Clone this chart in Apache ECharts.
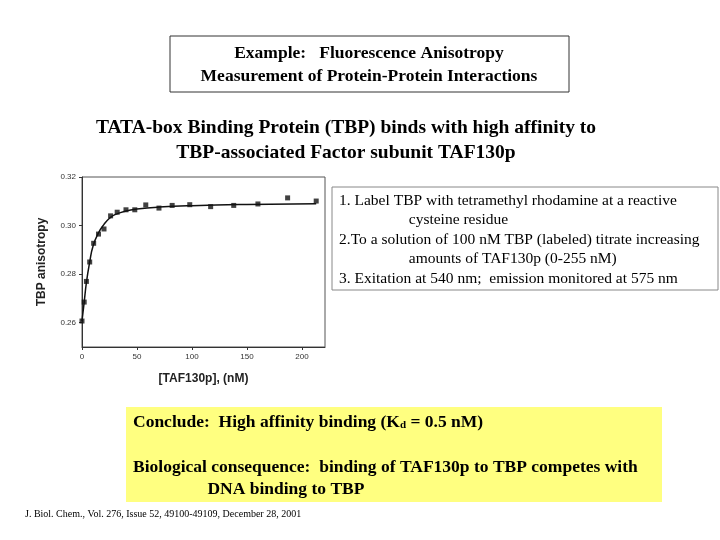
<!DOCTYPE html>
<html><head><meta charset="utf-8">
<script src="https://cdn.jsdelivr.net/npm/echarts@6/dist/echarts.min.js"></script>
<style>body{margin:0;background:#fff}#c{width:720px;height:540px}</style>
</head><body><div id="c"></div>
<script>
// data
var tafConc = [0, 2, 4, 7, 10.6, 15, 20, 26, 32, 40, 48, 58, 70, 82, 98, 117, 138, 160, 187, 213];
var anisotropy = [0.2607, 0.2685, 0.277, 0.285, 0.2927, 0.2965, 0.2986, 0.304, 0.3055, 0.3065, 0.3065, 0.3085, 0.3072, 0.3083, 0.3086, 0.3078, 0.3083, 0.3089, 0.3114, 0.3101];
var fitX = [0, 2, 4, 7, 10, 15, 20, 25, 30, 40, 50, 70, 100, 150, 213];
var fitY = [0.2607, 0.2685, 0.2765, 0.2850, 0.2915, 0.2970, 0.3005, 0.3030, 0.3045, 0.3060, 0.3068, 0.3076, 0.3082, 0.3087, 0.3090];
var xTicks = [0, 50, 100, 150, 200];
var yTicks = [0.26, 0.28, 0.30, 0.32];

var serif = 'Liberation Serif';
var chart = echarts.init(document.getElementById('c'));

var option = {
    backgroundColor: '#fff',
    animation: false,
    grid: {left: 82, top: 177, width: 243, height: 170, show: true, borderColor: '#555', borderWidth: 1},
    xAxis: {
        type: 'value', min: 0, max: 221,
        name: '[TAF130p], (nM)', nameLocation: 'middle', nameGap: 26,
        nameTextStyle: {fontFamily: 'Liberation Sans', fontWeight: 'bold', fontSize: 12, color: '#222'},
        axisLine: {lineStyle: {color: '#333'}},
        axisTick: {length: 3, customValues: xTicks, lineStyle: {color: '#333'}},
        axisLabel: {fontSize: 8, color: '#333', margin: 6, customValues: xTicks},
        splitLine: {show: false}
    },
    yAxis: {
        type: 'value', min: 0.25, max: 0.32,
        name: 'TBP anisotropy', nameLocation: 'middle', nameGap: 34,
        nameTextStyle: {fontFamily: 'Liberation Sans', fontWeight: 'bold', fontSize: 12, color: '#222'},
        axisLine: {show: true, lineStyle: {color: '#333'}},
        axisTick: {show: true, length: 3, customValues: yTicks, lineStyle: {color: '#333'}},
        axisLabel: {fontSize: 8, color: '#333', margin: 6, customValues: yTicks,
                    formatter: function (v) { return v.toFixed(2); }},
        splitLine: {show: false}
    },
    series: [
        {type: 'line', data: fitX.map(function (x, i) { return [x, fitY[i]]; }),
         smooth: true, showSymbol: false, lineStyle: {color: '#111', width: 1.5}},
        {type: 'scatter', data: tafConc.map(function (x, i) { return [x, anisotropy[i]]; }),
         symbol: 'rect', symbolSize: 5, itemStyle: {color: '#111'}}
    ],
    graphic: [
        {type: 'rect', shape: {x: 170, y: 36, width: 399, height: 56},
         style: {fill: '#fff', stroke: '#333', lineWidth: 1}},
        {type: 'text', x: 369, y: 42, style: {text: 'Example:   Fluorescence Anisotropy\nMeasurement of Protein-Protein Interactions',
         font: 'bold 17.5px ' + serif, fill: '#000', align: 'center', lineHeight: 23}},
        {type: 'text', x: 346, y: 115, style: {text: 'TATA-box Binding Protein (TBP) binds with high affinity to\nTBP-associated Factor subunit TAF130p',
         font: 'bold 19.5px ' + serif, fill: '#000', align: 'center', lineHeight: 25}},
        {type: 'rect', shape: {x: 332, y: 187, width: 386, height: 103},
         style: {fill: '#fff', stroke: '#888', lineWidth: 1}},
        {type: 'text', x: 339, y: 191, style: {text: '1. Label TBP with tetramethyl rhodamine at a reactive\n                  cysteine residue\n2.To a solution of 100 nM TBP (labeled) titrate increasing\n                  amounts of TAF130p (0-255 nM)\n3. Exitation at 540 nm;  emission monitored at 575 nm',
         font: '15.5px ' + serif, fill: '#000', lineHeight: 19.5}},
        {type: 'rect', shape: {x: 126, y: 407, width: 536, height: 95}, style: {fill: '#ffff80'}},
        {type: 'text', x: 133, y: 413, style: {rich: {
            b: {font: 'bold 17.5px ' + serif, fill: '#000'},
            s: {font: 'bold 11px ' + serif, fill: '#000', padding: [7, 0, 0, 0]}},
            text: '{b|Conclude:  High affinity binding (K}{s|d}{b| = 0.5 nM)}'}},
        {type: 'text', x: 133, y: 456, style: {text: 'Biological consequence:  binding of TAF130p to TBP competes with\n                 DNA binding to TBP',
         font: 'bold 17.5px ' + serif, fill: '#000', lineHeight: 22}},
        {type: 'text', x: 25, y: 509, style: {text: 'J. Biol. Chem., Vol. 276, Issue 52, 49100-49109, December 28, 2001',
         font: '10px ' + serif, fill: '#000'}}
    ]
};
chart.setOption(option);
</script></body></html>
